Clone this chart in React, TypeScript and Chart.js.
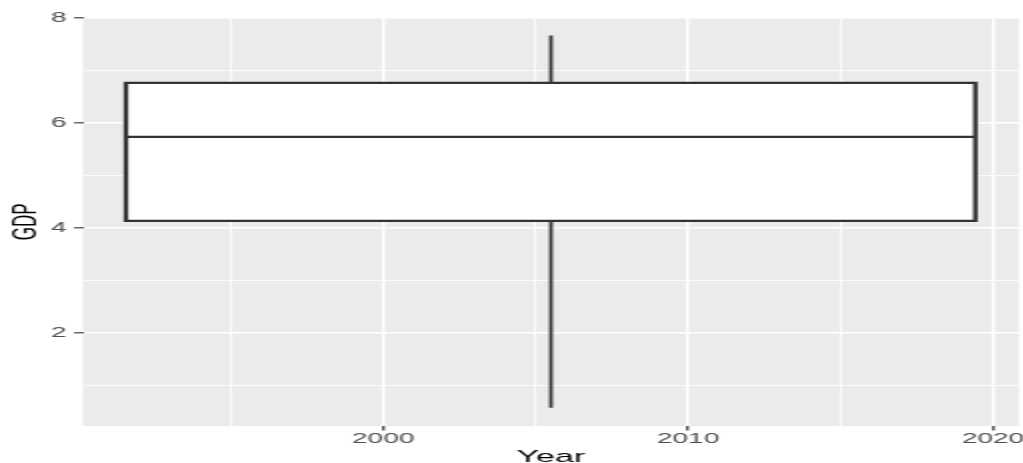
import { useEffect, useRef } from 'react';
import { Chart, registerables } from 'chart.js';

Chart.register(...registerables);

// Box plot statistics
const boxEdges = [1991.56, 2019.42]; // left / right edge of the box (Year)
const whiskerX = [2005.5]; // centre of the box (Year)
const quartiles = [4.14, 5.74, 6.77]; // Q1, median, Q3 (GDP)
const whiskerEnds = [0.58, 7.67]; // lower / upper whisker end (GDP)

// Axes
const xRange = [1990.15, 2020.85];
const yRange = [0.234, 8.015];
const xTicks = [1995, 2000, 2005, 2010, 2015, 2020];
const xMajor = [2000, 2010, 2020];
const yTicks = [1, 2, 3, 4, 5, 6, 7, 8];
const yMajor = [2, 4, 6, 8];

const FONT = "'Liberation Sans', Arial, Helvetica, sans-serif";
const DARK = '#333333';

const panelBg = {
  id: 'panelBg',
  beforeDraw(chart: any) {
    const { ctx, chartArea } = chart;
    if (!chartArea) return;
    ctx.save();
    ctx.fillStyle = '#EBEBEB';
    ctx.fillRect(chartArea.left, chartArea.top, chartArea.right - chartArea.left, chartArea.bottom - chartArea.top);
    ctx.restore();
  },
};

export default function App() {
  const ref = useRef<HTMLCanvasElement>(null);

  useEffect(() => {
    const [xs, xe] = boxEdges;
    const [xc] = whiskerX;
    const [q1, med, q3] = quartiles;
    const [lo, hi] = whiskerEnds;

    const lineBase = {
      pointRadius: 0,
      pointHoverRadius: 0,
      tension: 0,
      borderColor: DARK,
      borderWidth: 2.3,
      borderJoinStyle: 'miter' as const,
      borderCapStyle: 'butt' as const,
      fill: false,
    };

    const chart = new Chart(ref.current!, {
      type: 'line',
      data: {
        datasets: [
          {
            ...lineBase,
            label: 'box',
            data: [
              { x: xs, y: q1 },
              { x: xs, y: q3 },
              { x: xe, y: q3 },
              { x: xe, y: q1 },
              { x: xs, y: q1 },
              { x: xs, y: q3 },
            ],
          },
          { ...lineBase, label: 'median', data: [{ x: xs, y: med }, { x: xe, y: med }] },
          { ...lineBase, label: 'upper', borderWidth: 1.8, data: [{ x: xc, y: q3 }, { x: xc, y: hi }] },
          { ...lineBase, label: 'lower', borderWidth: 1.8, data: [{ x: xc, y: lo }, { x: xc, y: q1 }] },
          {
            ...lineBase,
            label: 'fillTop',
            borderWidth: 0,
            borderColor: 'rgba(0,0,0,0)',
            backgroundColor: '#FFFFFF',
            fill: 5,
            data: [{ x: xs, y: q3 }, { x: xe, y: q3 }],
          },
          {
            ...lineBase,
            label: 'fillBottom',
            borderWidth: 0,
            borderColor: 'rgba(0,0,0,0)',
            data: [{ x: xs, y: q1 }, { x: xe, y: q1 }],
          },
        ],
      },
      options: {
        animation: false,
        responsive: false,
        devicePixelRatio: 1,
        events: [],
        layout: { padding: { left: 0, top: 17.5, right: 20.5, bottom: 0 } },
        plugins: {
          legend: { display: false },
          tooltip: { enabled: false },
        },
        scales: {
          x: {
            type: 'linear',
            min: xRange[0],
            max: xRange[1],
            afterBuildTicks: (s: any) => {
              s.ticks = xTicks.map((v) => ({ value: v }));
            },
            afterFit: (s: any) => {
              s.height = 54;
            },
            border: { display: false },
            grid: {
              color: '#FFFFFF',
              lineWidth: (c: any) => (c.tick && xMajor.includes(c.tick.value) ? 1.5 : 0.8),
              tickColor: (c: any) => (c.tick && xMajor.includes(c.tick.value) ? DARK : 'rgba(0,0,0,0)'),
              tickLength: 4.5,
              tickWidth: 1.2,
            },
            ticks: {
              autoSkip: false,
              maxRotation: 0,
              minRotation: 0,
              padding: 0,
              color: '#4D4D4D',
              font: { family: FONT, size: 14 },
              callback: (v: any) => (xMajor.includes(Number(v)) ? String(v) : ''),
            },
            title: {
              display: true,
              text: 'Year',
              color: '#000000',
              font: { family: FONT, size: 17 },
              padding: { top: 0, bottom: 12.8 },
            },
          },
          y: {
            type: 'linear',
            min: yRange[0],
            max: yRange[1],
            afterBuildTicks: (s: any) => {
              s.ticks = yTicks.map((v) => ({ value: v }));
            },
            afterFit: (s: any) => {
              s.width = 41.5;
            },
            border: { display: false },
            grid: {
              color: '#FFFFFF',
              lineWidth: (c: any) => (c.tick && yMajor.includes(c.tick.value) ? 1.6 : 0.8),
              tickColor: (c: any) => (c.tick && yMajor.includes(c.tick.value) ? DARK : 'rgba(0,0,0,0)'),
              tickLength: 4.5,
              tickWidth: 1.1,
            },
            ticks: {
              autoSkip: false,
              padding: 3.7,
              color: '#4D4D4D',
              font: { family: FONT, size: 14 },
              callback: (v: any) => (yMajor.includes(Number(v)) ? String(v) : ''),
            },
            title: {
              display: true,
              text: 'GDP',
              color: '#000000',
              font: { family: FONT, size: 17 },
              padding: { top: 3.3, bottom: 0 },
            },
          },
        },
      },
      plugins: [panelBg],
    } as any);

    return () => chart.destroy();
  }, []);

  return (
    <div
      style={{
        position: 'fixed',
        left: 0,
        top: 0,
        width: 1023,
        height: 463,
        overflow: 'hidden',
        background: '#FFFFFF',
      }}
    >
      <canvas
        ref={ref}
        width={530}
        height={480}
        style={{
          display: 'block',
          width: 530,
          height: 480,
          transform: 'scaleX(2)',
          transformOrigin: '0 0',
        }}
      />
    </div>
  );
}
